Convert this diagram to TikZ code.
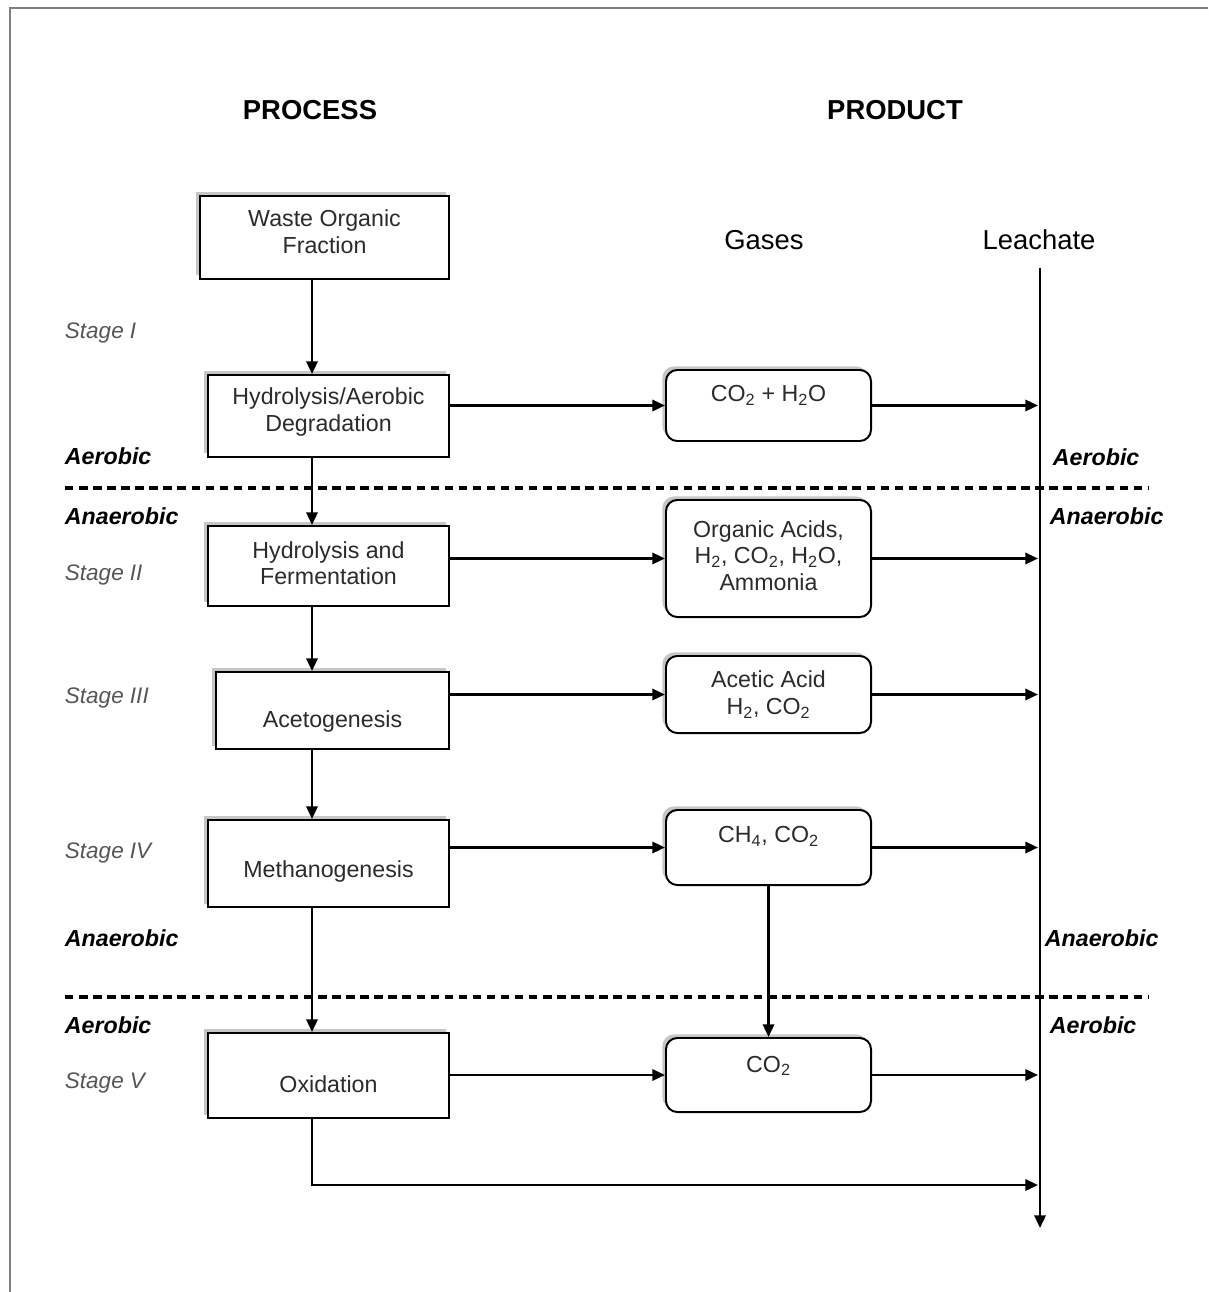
\documentclass[tikz,border=0pt]{standalone}
\usepackage{fontspec}
\setmainfont{Liberation Sans}
\usetikzlibrary{arrows.meta,shadows}

\definecolor{boxink}{HTML}{2B2B2B}
\definecolor{stageink}{HTML}{555555}

\begin{document}
\begin{tikzpicture}[x=0.025cm,y=-0.025cm,
    procbox/.style={draw, line width=1.4pt, fill=white,
      drop shadow={shadow xshift=-2.5pt, shadow yshift=2.5pt, opacity=.45}},
    gasbox/.style={procbox, rounded corners=8pt, minimum width=5.125cm},
    boxtxt/.style={text=boxink, align=center,
      font=\fontsize{16.5pt}{19pt}\selectfont},
    stagetxt/.style={anchor=west, text=stageink,
      font=\fontsize{16pt}{18pt}\selectfont\itshape},
    zonetxt/.style={anchor=west,
      font=\fontsize{16.5pt}{18pt}\selectfont\bfseries\itshape},
    headtxt/.style={font=\fontsize{19.5pt}{22pt}\selectfont\bfseries},
    coltxt/.style={font=\fontsize{19.5pt}{22pt}\selectfont},
    flow/.style={line width=1.8pt, -{Triangle[length=9pt,width=8pt]}},
    border/.style={draw=gray, line width=1.8pt},
    zoneline/.style={line width=2.2pt, dash pattern=on 6pt off 4pt}]
  \useasboundingbox (0,0) rectangle (1208,1292);

  % frame
  \draw[border] (1208,8) -- (10,8) -- (10,1292);

  % headings
  \node[headtxt] (process) at (310,110) {PROCESS};
  \node[headtxt] (product) at (895,110) {PRODUCT};
  \node[coltxt] (gases) at (764,240) {Gases};
  \node[coltxt] (leachate) at (1039,240) {Leachate};

  % process boxes
  \node[procbox, minimum width=6.225cm, minimum height=2.075cm,
    label={[boxtxt, yshift=4pt]center:Waste Organic\\Fraction}] (waste) at (324.5,237.5) {};
  \node[procbox, minimum width=6.025cm, minimum height=2.05cm,
    label={[boxtxt, yshift=3pt]center:Hydrolysis/Aerobic\\Degradation}] (hydro) at (328.5,416) {};
  \node[procbox, minimum width=6.025cm, minimum height=2cm,
    label={[boxtxt, yshift=2pt]center:Hydrolysis and\\Fermentation}] (ferm) at (328.5,566) {};
  \node[procbox, minimum width=5.825cm, minimum height=1.925cm,
    label={[boxtxt, yshift=-8pt]center:Acetogenesis}] (aceto) at (332.5,710.5) {};
  \node[procbox, minimum width=6.025cm, minimum height=2.175cm,
    label={[boxtxt, yshift=-5.5pt]center:Methanogenesis}] (methano) at (328.5,863.5) {};
  \node[procbox, minimum width=6.025cm, minimum height=2.125cm,
    label={[boxtxt, yshift=-6.5pt]center:Oxidation}] (oxid) at (328.5,1075.5) {};

  % gas boxes
  \node[gasbox, minimum height=1.775cm,
    label={[boxtxt, yshift=7pt]center:CO\textsubscript{2} + H\textsubscript{2}O}] (gwater) at (768.5,405.5) {};
  \node[gasbox, minimum height=2.925cm,
    label={[boxtxt, yshift=2pt]center:Organic Acids,\\H\textsubscript{2}, CO\textsubscript{2}, H\textsubscript{2}O,\\Ammonia}] (gacids) at (768.5,558.5) {};
  \node[gasbox, minimum height=1.925cm,
    label={[boxtxt]center:Acetic Acid\\H\textsubscript{2}, CO\textsubscript{2}}] (gacetic) at (768.5,694.5) {};
  \node[gasbox, minimum height=1.875cm,
    label={[boxtxt, yshift=8pt]center:CH\textsubscript{4}, CO\textsubscript{2}}] (gmethane) at (768.5,847.5) {};
  \node[gasbox, minimum height=1.85cm,
    label={[boxtxt, yshift=6.5pt]center:CO\textsubscript{2}}] (gcarbon) at (768.5,1075) {};

  % helper points
  \coordinate (spine) at (312,0);
  \coordinate (leach) at (1038,0);
  \coordinate (leachtop) at (1040,268);
  \coordinate (leachbot) at (1040,1228);
  \coordinate (leachin) at (1038,1185);
  \coordinate (dashA) at (65,488);
  \coordinate (dashB) at (1148,488);
  \coordinate (dashC) at (65,997);
  \coordinate (dashD) at (1148,997);

  % zone separators
  \draw[zoneline] (dashA) -- (dashB);
  \draw[zoneline] (dashC) -- (dashD);

  % process chain
  \draw[flow] (waste.south -| spine) -- (hydro.north -| spine);
  \draw[flow] (hydro.south -| spine) -- (ferm.north -| spine);
  \draw[flow] (ferm.south -| spine) -- (aceto.north -| spine);
  \draw[flow] (aceto.south -| spine) -- (methano.north -| spine);
  \draw[flow] (methano.south -| spine) -- (oxid.north -| spine);
  \draw[flow] (oxid.south -| spine) |- (leachin);

  % process to gases
  \draw[flow] (hydro.east |- gwater.west) -- (gwater.west);
  \draw[flow] (ferm.east |- gacids.west) -- (gacids.west);
  \draw[flow] (aceto.east |- gacetic.west) -- (gacetic.west);
  \draw[flow] (methano.east |- gmethane.west) -- (gmethane.west);
  \draw[flow] (oxid.east |- gcarbon.west) -- (gcarbon.west);
  \draw[flow] (gmethane.south) -- (gcarbon.north);

  % gases to leachate
  \draw[flow] (gwater.east) -- (gwater.east -| leach);
  \draw[flow] (gacids.east) -- (gacids.east -| leach);
  \draw[flow] (gacetic.east) -- (gacetic.east -| leach);
  \draw[flow] (gmethane.east) -- (gmethane.east -| leach);
  \draw[flow] (gcarbon.east) -- (gcarbon.east -| leach);
  \draw[flow] (leachtop) -- (leachbot);

  % stage labels
  \node[stagetxt] (stageI) at (60,333) {Stage I};
  \node[stagetxt] (stageII) at (60,575) {Stage II};
  \node[stagetxt] (stageIII) at (60,698) {Stage III};
  \node[stagetxt] (stageIV) at (60,853) {Stage IV};
  \node[stagetxt] (stageV) at (60,1083) {Stage V};

  % zone labels
  \node[zonetxt] (aeroL) at (60,456) {Aerobic};
  \node[zonetxt] (anaeroL) at (60,516) {Anaerobic};
  \node[zonetxt] (anaeroLb) at (60,938) {Anaerobic};
  \node[zonetxt] (aeroLb) at (60,1025) {Aerobic};
  \node[zonetxt] (aeroR) at (1048,457) {Aerobic};
  \node[zonetxt] (anaeroR) at (1045,516) {Anaerobic};
  \node[zonetxt] (anaeroRb) at (1040,938) {Anaerobic};
  \node[zonetxt] (aeroRb) at (1045,1025) {Aerobic};
\end{tikzpicture}
\end{document}
